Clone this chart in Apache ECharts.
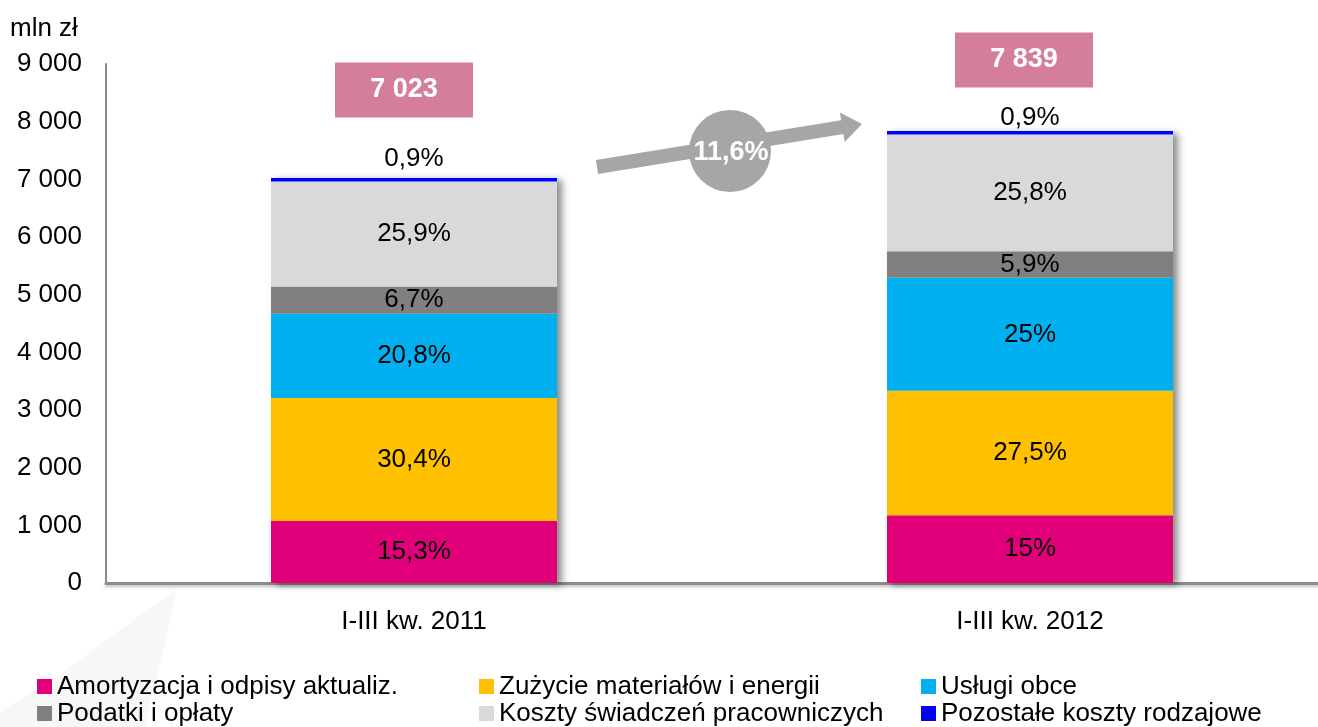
<!DOCTYPE html>
<html>
<head>
<meta charset="utf-8">
<script src="https://cdn.jsdelivr.net/npm/echarts@6/dist/echarts.min.js"></script>
<style>
  html, body { margin: 0; padding: 0; background: #fff; }
  #chart { width: 1318px; height: 727px; }
</style>
</head>
<body>
<div id="chart"></div>
<script>
// mln zł (shares of the totals)
const categories = ['I-III kw. 2011', 'I-III kw. 2012'];
const totals = [7023, 7839];
const growthLabel = '11,6%';

const amortyzacja = [1075, 1176];
const zuzycie = [2135, 2156];
const uslugi = [1461, 1960];
const podatki = [471, 462];
const swiadczenia = [1819, 2022];
const pozostale = [62, 63];

const amortyzacjaPct = ['15,3%', '15%'];
const zuzyciePct = ['30,4%', '27,5%'];
const uslugiPct = ['20,8%', '25%'];
const podatkiPct = ['6,7%', '5,9%'];
const swiadczeniaPct = ['25,9%', '25,8%'];
const pozostalePct = ['0,9%', '0,9%'];

const yTicks = { min: 0, max: 9000, interval: 1000 };

const FONT = '"Liberation Sans", Arial, sans-serif';

function fmtThousands(v) {
    return String(v).replace(/\B(?=(\d{3})+(?!\d))/g, ' ');
}

function stackSeries(name, values, labels, color, labelPos, distances) {
    return {
        name: name,
        type: 'bar',
        stack: 'koszty',
        barWidth: 286,
        barGap: '-100%',
        z: 3,
        itemStyle: { color: color },
        label: {
            show: true,
            position: labelPos || 'inside',
            distance: 6,
            color: '#000',
            fontFamily: FONT,
            fontSize: 26,
            formatter: (p) => labels[p.dataIndex]
        },
        data: distances
            ? values.map((v, i) => ({ value: v, label: { distance: distances[i] } }))
            : values
    };
}

// arrow between the bars, built from start point, end point and widths
function arrowPoints(sx, sy, ex, ey, half, headHalf, headLen) {
    const dx = ex - sx, dy = ey - sy;
    const len = Math.sqrt(dx * dx + dy * dy);
    const ux = dx / len, uy = dy / len;
    const nx = -uy, ny = ux;
    const bx = sx + ux * (len - headLen), by = sy + uy * (len - headLen);
    return [
        [sx - nx * half, sy - ny * half],
        [bx - nx * half, by - ny * half],
        [bx - nx * headHalf, by - ny * headHalf],
        [ex, ey],
        [bx + nx * headHalf, by + ny * headHalf],
        [bx + nx * half, by + ny * half],
        [sx + nx * half, sy + ny * half]
    ];
}

const chart = echarts.init(document.getElementById('chart'), null, { renderer: 'canvas' });

const option = {
    backgroundColor: '#fff',
    animation: false,
    textStyle: { fontFamily: FONT },
    title: {
        text: 'mln zł',
        left: 10,
        top: 16,
        padding: 0,
        textStyle: { fontFamily: FONT, fontSize: 26, fontWeight: 'normal', color: '#000' }
    },
    // the plot area runs past the right edge of the page, as in the original slide
    grid: { left: 106, width: 1232, top: 64, bottom: 144, outerBoundsMode: 'none', containLabel: false },
    legend: {
        data: ['Amortyzacja i odpisy aktualiz.', 'Zużycie materiałów i energii', 'Usługi obce',
               'Podatki i opłaty', 'Koszty świadczeń pracowniczych', 'Pozostałe koszty rodzajowe'],
        left: 37,
        top: 673,
        width: 1340,
        padding: 0,
        itemWidth: 15,
        itemHeight: 15,
        itemGap: 0,
        icon: 'rect',
        textStyle: { fontFamily: FONT, fontSize: 26, color: '#000', width: 422, lineHeight: 27 }
    },
    xAxis: {
        type: 'category',
        data: categories,
        axisTick: { show: false },
        axisLine: {
            lineStyle: { color: '#8c8c8c', width: 3, shadowColor: 'rgba(0,0,0,0.25)', shadowBlur: 3, shadowOffsetY: 2 }
        },
        axisLabel: { margin: 26, color: '#000', fontFamily: FONT, fontSize: 26 }
    },
    yAxis: {
        type: 'value',
        min: yTicks.min,
        max: yTicks.max,
        interval: yTicks.interval,
        splitLine: { show: false },
        axisTick: { show: false },
        axisLine: { show: true, lineStyle: { color: '#8c8c8c', width: 2 } },
        axisLabel: {
            margin: 24,
            color: '#000',
            fontFamily: FONT,
            fontSize: 26,
            formatter: (v) => fmtThousands(v)
        }
    },
    graphic: [
        {
            type: 'polygon',
            z: -1,
            silent: true,
            smooth: 0.4,
            shape: { points: [[176, 590], [166, 640], [153, 690], [146, 727], [0, 727], [0, 712],
                              [60, 675], [120, 630], [176, 590]] },
            style: { fill: '#f7f7f7' }
        },
        {
            type: 'polygon',
            z: 10,
            shape: { points: arrowPoints(597, 167, 862, 124, 7, 15, 20) },
            style: { fill: '#a6a6a6' }
        },
        {
            type: 'circle',
            z: 11,
            shape: { cx: 730, cy: 151, r: 41 },
            style: { fill: '#a6a6a6' }
        },
        {
            type: 'text',
            z: 12,
            x: 731,
            y: 153,
            style: {
                text: growthLabel,
                fill: '#fff',
                font: 'bold 27px ' + FONT,
                align: 'center',
                verticalAlign: 'middle'
            }
        }
    ],
    series: [
        {
            name: 'cień',
            type: 'bar',
            barWidth: 286,
            barGap: '-100%',
            z: 2,
            silent: true,
            itemStyle: { color: '#fff', shadowColor: 'rgba(0,0,0,0.45)', shadowBlur: 7, shadowOffsetX: 5, shadowOffsetY: 2 },
            data: totals
        },
        stackSeries('Amortyzacja i odpisy aktualiz.', amortyzacja, amortyzacjaPct, '#e2007a'),
        stackSeries('Zużycie materiałów i energii', zuzycie, zuzyciePct, '#ffc000'),
        stackSeries('Usługi obce', uslugi, uslugiPct, '#00b0f0'),
        stackSeries('Podatki i opłaty', podatki, podatkiPct, '#808080'),
        stackSeries('Koszty świadczeń pracowniczych', swiadczenia, swiadczeniaPct, '#d9d9d9'),
        stackSeries('Pozostałe koszty rodzajowe', pozostale, pozostalePct, '#0000ff', 'top', [6, 0]),
        {
            name: 'suma',
            type: 'scatter',
            z: 5,
            symbol: 'rect',
            symbolSize: [138, 55],
            itemStyle: { color: '#d57e9c', opacity: 1 },
            label: {
                show: true,
                position: 'inside',
                color: '#fff',
                fontFamily: FONT,
                fontWeight: 'bold',
                fontSize: 27,
                formatter: (p) => fmtThousands(p.value[1])
            },
            data: [
                { value: [0, totals[0]], symbolOffset: [-10, -88] },
                { value: [1, totals[1]], symbolOffset: [-6, -71] }
            ]
        }
    ]
};

chart.setOption(option);
</script>
</body>
</html>
